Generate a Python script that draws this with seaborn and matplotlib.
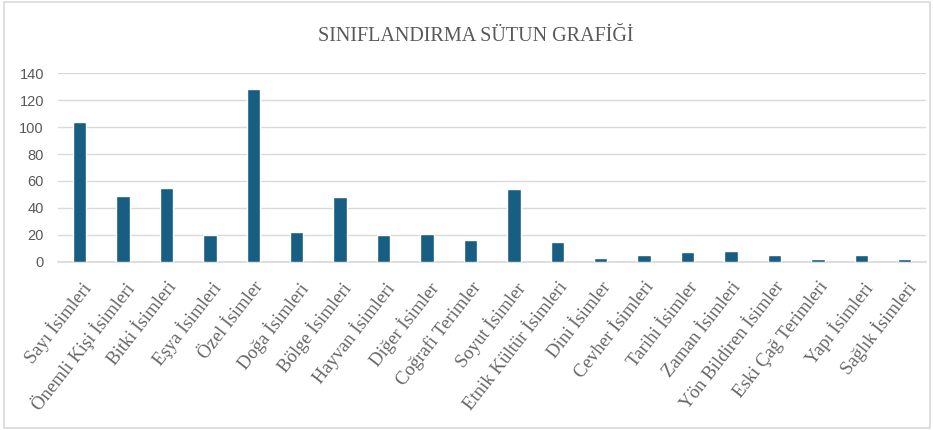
import matplotlib
matplotlib.use("Agg")
import matplotlib.pyplot as plt
from matplotlib.patches import Rectangle
import pandas as pd
import seaborn as sns

categories = [
    "Sayı İsimleri", "Önemli Kişi İsimleri", "Bitki İsimleri", "Eşya İsimleri",
    "Özel İsimler", "Doğa İsimleri", "Bölge İsimleri", "Hayvan İsimleri",
    "Diğer İsimler", "Coğrafi Terimler", "Soyut İsimler", "Etnik Kültür İsimleri",
    "Dini İsimler", "Cevher İsimleri", "Tarihi İsimler", "Zaman İsimleri",
    "Yön Bildiren İsimler", "Eski Çağ Terimleri", "Yapı İsimleri", "Sağlık İsimleri",
]
counts = [104, 49, 55, 20, 128, 22, 48, 20, 21, 16, 54, 15, 3, 5, 7, 8, 5, 2, 5, 2]

df = pd.DataFrame({"kategori": categories, "sayi": counts})

sns.set_theme(style="white")
GREY = "#595959"
BAR = "#175E82"

fig = plt.figure(figsize=(9.33, 4.30), dpi=100)
ax = fig.add_axes([0.062, 0.391, 0.931, 0.439])

sns.barplot(data=df, x="kategori", y="sayi", color=BAR, width=0.31,
            saturation=1, ax=ax, zorder=3)

ax.set_ylim(0, 140)
ax.set_yticks(range(0, 141, 20))
ax.yaxis.grid(True, color="#D9D9D9", linewidth=1.0, zorder=0)
for s in ["top", "right", "left"]:
    ax.spines[s].set_visible(False)
ax.spines["bottom"].set_color("#D9D9D9")
ax.set_xlabel("")
ax.set_ylabel("")
ax.tick_params(axis="y", colors=GREY, labelsize=10.5, length=0, pad=10)
ax.tick_params(axis="x", colors=GREY, length=0, pad=12)
for lbl in ax.get_yticklabels():
    lbl.set_family("Liberation Sans")
ax.set_xticks(range(len(categories)))
ax.set_xticklabels(categories, rotation=52, ha="right", rotation_mode="anchor",
                   family="Liberation Serif", fontsize=13.5, color="#666666")

fig.text(0.51, 0.915, "SINIFLANDIRMA SÜTUN GRAFİĞİ", ha="center", va="center",
         family="Liberation Serif", fontsize=14.5, color=GREY)

fig.patches.append(Rectangle((0.004, 0.005), 0.993, 0.99, transform=fig.transFigure,
                             fill=False, edgecolor="#D9D9D9", linewidth=1.2))

fig.savefig("out.png", dpi=100)
